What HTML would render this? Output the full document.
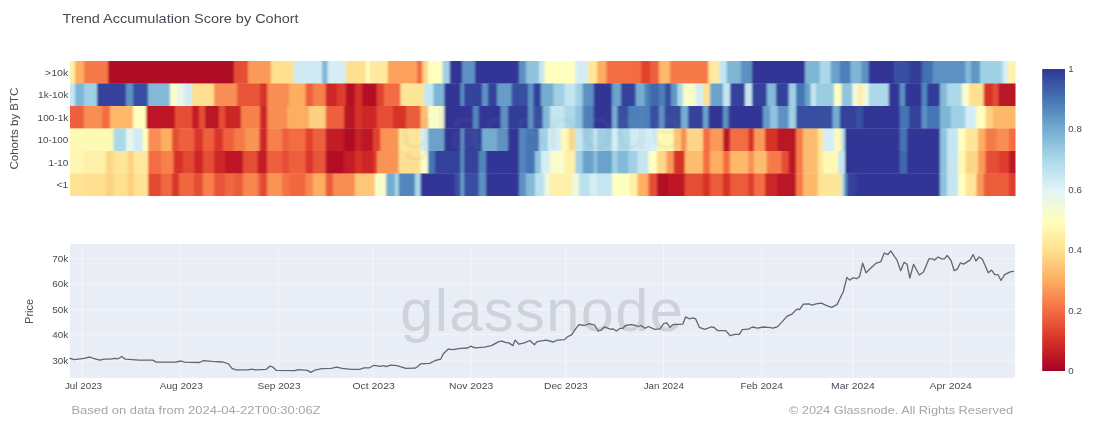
<!DOCTYPE html>
<html><head><meta charset="utf-8"><title>Trend Accumulation Score by Cohort</title>
<style>
html,body{margin:0;padding:0;background:#fff;}
body{width:1096px;height:433px;overflow:hidden;position:relative;font-family:"Liberation Sans",sans-serif;}
svg{position:absolute;left:0;top:0;will-change:transform;}
text{font-family:"Liberation Sans",sans-serif;}
.t{fill:#464a52;}
.g line{stroke:#fff;stroke-width:1;stroke-opacity:0.5;}
</style></head><body>
<svg width="1096" height="433" viewBox="0 0 1096 433">
<defs>
<linearGradient id="cb" x1="0" y1="0" x2="0" y2="1">
<stop offset="0%" stop-color="#313695"/>
<stop offset="10%" stop-color="#4575b4"/>
<stop offset="20%" stop-color="#74add1"/>
<stop offset="30%" stop-color="#abd9e9"/>
<stop offset="40%" stop-color="#e0f3f8"/>
<stop offset="50%" stop-color="#ffffbf"/>
<stop offset="60%" stop-color="#fee090"/>
<stop offset="70%" stop-color="#fdae61"/>
<stop offset="80%" stop-color="#f46d43"/>
<stop offset="90%" stop-color="#d73027"/>
<stop offset="100%" stop-color="#a50026"/>
</linearGradient>
<filter id="hb" x="-2%" y="-2%" width="104%" height="104%"><feGaussianBlur stdDeviation="1.1 0.35"/></filter>
<clipPath id="hc"><rect x="70" y="61" width="945.5" height="135"/></clipPath>
<clipPath id="pc"><rect x="70" y="244" width="945" height="134"/></clipPath>
</defs>
<rect width="1096" height="433" fill="#ffffff"/>
<!-- title -->
<text class="t" x="62.6" y="22.9" font-size="13.3" textLength="236" lengthAdjust="spacingAndGlyphs">Trend Accumulation Score by Cohort</text>
<!-- heatmap -->
<g clip-path="url(#hc)">
<g filter="url(#hb)">
<rect x="60" y="40" width="965" height="22" fill="#ffffbf"/>
<rect x="60" y="195.5" width="965" height="22" fill="#ffffbf"/>
<rect x="64.0" y="61.00" width="11.5" height="22.80" fill="#fef0a8"/>
<rect x="75.0" y="61.00" width="9.5" height="22.80" fill="#fdae61"/>
<rect x="84.0" y="61.00" width="24.5" height="22.80" fill="#f67a49"/>
<rect x="108.0" y="61.00" width="126.5" height="22.80" fill="#af0a26"/>
<rect x="234.0" y="61.00" width="14.5" height="22.80" fill="#e64e35"/>
<rect x="248.0" y="61.00" width="23.5" height="22.80" fill="#fa9a58"/>
<rect x="271.0" y="61.00" width="23.3" height="22.80" fill="#fee090"/>
<rect x="293.8" y="61.00" width="28.7" height="22.80" fill="#d0ebf4"/>
<rect x="322.0" y="61.00" width="6.0" height="22.80" fill="#7fb6d6"/>
<rect x="327.5" y="61.00" width="18.8" height="22.80" fill="#d5eef5"/>
<rect x="345.8" y="61.00" width="20.5" height="22.80" fill="#fee090"/>
<rect x="365.8" y="61.00" width="4.2" height="22.80" fill="#ffffbf"/>
<rect x="369.5" y="61.00" width="18.7" height="22.80" fill="#fee99e"/>
<rect x="387.7" y="61.00" width="29.8" height="22.80" fill="#fba15b"/>
<rect x="417.0" y="61.00" width="5.9" height="22.80" fill="#f46d43"/>
<rect x="422.4" y="61.00" width="6.1" height="22.80" fill="#fed687"/>
<rect x="428.0" y="61.00" width="15.0" height="22.80" fill="#ffffbf"/>
<rect x="442.5" y="61.00" width="7.8" height="22.80" fill="#a0d0e4"/>
<rect x="449.8" y="61.00" width="12.7" height="22.80" fill="#313695"/>
<rect x="462.0" y="61.00" width="13.5" height="22.80" fill="#5d91c3"/>
<rect x="475.0" y="61.00" width="44.5" height="22.80" fill="#313695"/>
<rect x="519.0" y="61.00" width="7.5" height="22.80" fill="#5d91c3"/>
<rect x="526.0" y="61.00" width="13.5" height="22.80" fill="#90c3dd"/>
<rect x="539.0" y="61.00" width="5.9" height="22.80" fill="#c5e6f0"/>
<rect x="544.4" y="61.00" width="31.5" height="22.80" fill="#ffffbf"/>
<rect x="575.4" y="61.00" width="13.1" height="22.80" fill="#d5eef5"/>
<rect x="588.0" y="61.00" width="9.5" height="22.80" fill="#fee699"/>
<rect x="597.0" y="61.00" width="10.0" height="22.80" fill="#fdae61"/>
<rect x="606.5" y="61.00" width="35.0" height="22.80" fill="#f46d43"/>
<rect x="641.0" y="61.00" width="9.5" height="22.80" fill="#e0422f"/>
<rect x="650.0" y="61.00" width="9.5" height="22.80" fill="#ee613d"/>
<rect x="659.0" y="61.00" width="11.5" height="22.80" fill="#fdb86a"/>
<rect x="670.0" y="61.00" width="38.9" height="22.80" fill="#f67a49"/>
<rect x="708.4" y="61.00" width="11.4" height="22.80" fill="#fee99e"/>
<rect x="719.3" y="61.00" width="7.8" height="22.80" fill="#c5e6f0"/>
<rect x="726.6" y="61.00" width="14.9" height="22.80" fill="#7fb6d6"/>
<rect x="741.0" y="61.00" width="11.5" height="22.80" fill="#5d91c3"/>
<rect x="752.0" y="61.00" width="53.5" height="22.80" fill="#313695"/>
<rect x="805.0" y="61.00" width="15.2" height="22.80" fill="#7fb6d6"/>
<rect x="819.7" y="61.00" width="11.5" height="22.80" fill="#abd9e9"/>
<rect x="830.7" y="61.00" width="9.6" height="22.80" fill="#6ba2cb"/>
<rect x="839.8" y="61.00" width="11.2" height="22.80" fill="#4e80ba"/>
<rect x="850.5" y="61.00" width="11.4" height="22.80" fill="#7fb6d6"/>
<rect x="861.4" y="61.00" width="7.8" height="22.80" fill="#5d91c3"/>
<rect x="868.7" y="61.00" width="26.1" height="22.80" fill="#313695"/>
<rect x="894.3" y="61.00" width="15.2" height="22.80" fill="#394fa1"/>
<rect x="909.0" y="61.00" width="13.1" height="22.80" fill="#333c98"/>
<rect x="921.6" y="61.00" width="11.5" height="22.80" fill="#436fb1"/>
<rect x="932.6" y="61.00" width="33.3" height="22.80" fill="#5d91c3"/>
<rect x="965.4" y="61.00" width="6.1" height="22.80" fill="#84bad8"/>
<rect x="971.0" y="61.00" width="9.5" height="22.80" fill="#6197c5"/>
<rect x="980.0" y="61.00" width="23.0" height="22.80" fill="#a0d0e4"/>
<rect x="1002.5" y="61.00" width="5.5" height="22.80" fill="#d5eef5"/>
<rect x="1007.5" y="61.00" width="14.0" height="22.80" fill="#fff3ac"/>
<rect x="64.0" y="83.50" width="11.5" height="22.80" fill="#c5e6f0"/>
<rect x="75.0" y="83.50" width="9.5" height="22.80" fill="#7fb6d6"/>
<rect x="84.0" y="83.50" width="13.5" height="22.80" fill="#a0d0e4"/>
<rect x="97.0" y="83.50" width="29.5" height="22.80" fill="#35439b"/>
<rect x="126.0" y="83.50" width="7.5" height="22.80" fill="#5d91c3"/>
<rect x="133.0" y="83.50" width="15.5" height="22.80" fill="#394fa1"/>
<rect x="148.0" y="83.50" width="22.5" height="22.80" fill="#84bad8"/>
<rect x="170.0" y="83.50" width="7.5" height="22.80" fill="#f9fdca"/>
<rect x="177.0" y="83.50" width="7.5" height="22.80" fill="#e9f7e7"/>
<rect x="184.0" y="83.50" width="8.5" height="22.80" fill="#d0ebf4"/>
<rect x="192.0" y="83.50" width="22.5" height="22.80" fill="#fee090"/>
<rect x="214.0" y="83.50" width="23.5" height="22.80" fill="#f88e52"/>
<rect x="237.0" y="83.50" width="23.5" height="22.80" fill="#e85538"/>
<rect x="260.0" y="83.50" width="7.8" height="22.80" fill="#d73027"/>
<rect x="267.3" y="83.50" width="22.4" height="22.80" fill="#f88e52"/>
<rect x="289.2" y="83.50" width="16.9" height="22.80" fill="#fdae61"/>
<rect x="305.6" y="83.50" width="7.9" height="22.80" fill="#ee613d"/>
<rect x="313.0" y="83.50" width="13.2" height="22.80" fill="#f7804c"/>
<rect x="325.7" y="83.50" width="11.4" height="22.80" fill="#cd2627"/>
<rect x="336.6" y="83.50" width="9.7" height="22.80" fill="#dd3c2d"/>
<rect x="345.8" y="83.50" width="9.7" height="22.80" fill="#b40e26"/>
<rect x="355.0" y="83.50" width="7.5" height="22.80" fill="#d73027"/>
<rect x="362.0" y="83.50" width="15.3" height="22.80" fill="#b40e26"/>
<rect x="376.8" y="83.50" width="7.7" height="22.80" fill="#e0422f"/>
<rect x="384.0" y="83.50" width="17.0" height="22.80" fill="#f46d43"/>
<rect x="400.5" y="83.50" width="24.0" height="22.80" fill="#fee699"/>
<rect x="424.0" y="83.50" width="9.9" height="22.80" fill="#c5e6f0"/>
<rect x="433.4" y="83.50" width="11.4" height="22.80" fill="#7fb6d6"/>
<rect x="444.3" y="83.50" width="16.7" height="22.80" fill="#313695"/>
<rect x="460.5" y="83.50" width="4.0" height="22.80" fill="#5d91c3"/>
<rect x="464.0" y="83.50" width="18.5" height="22.80" fill="#35439b"/>
<rect x="482.0" y="83.50" width="6.5" height="22.80" fill="#5d91c3"/>
<rect x="488.0" y="83.50" width="9.5" height="22.80" fill="#35439b"/>
<rect x="497.0" y="83.50" width="15.1" height="22.80" fill="#669cc8"/>
<rect x="511.6" y="83.50" width="16.9" height="22.80" fill="#394fa1"/>
<rect x="528.0" y="83.50" width="6.0" height="22.80" fill="#5d91c3"/>
<rect x="533.5" y="83.50" width="7.8" height="22.80" fill="#35439b"/>
<rect x="540.8" y="83.50" width="13.2" height="22.80" fill="#74add1"/>
<rect x="553.5" y="83.50" width="11.5" height="22.80" fill="#a0d0e4"/>
<rect x="564.5" y="83.50" width="11.4" height="22.80" fill="#c5e6f0"/>
<rect x="575.4" y="83.50" width="7.8" height="22.80" fill="#a0d0e4"/>
<rect x="582.7" y="83.50" width="11.5" height="22.80" fill="#5d91c3"/>
<rect x="593.7" y="83.50" width="18.8" height="22.80" fill="#313695"/>
<rect x="612.0" y="83.50" width="9.5" height="22.80" fill="#6ba2cb"/>
<rect x="621.0" y="83.50" width="15.2" height="22.80" fill="#35439b"/>
<rect x="635.7" y="83.50" width="9.6" height="22.80" fill="#74add1"/>
<rect x="644.8" y="83.50" width="5.7" height="22.80" fill="#4e80ba"/>
<rect x="650.0" y="83.50" width="9.5" height="22.80" fill="#4168ae"/>
<rect x="659.0" y="83.50" width="6.5" height="22.80" fill="#4e80ba"/>
<rect x="665.0" y="83.50" width="6.5" height="22.80" fill="#394fa1"/>
<rect x="671.0" y="83.50" width="6.9" height="22.80" fill="#6197c5"/>
<rect x="677.4" y="83.50" width="6.1" height="22.80" fill="#abd9e9"/>
<rect x="683.0" y="83.50" width="13.1" height="22.80" fill="#f9fdca"/>
<rect x="695.6" y="83.50" width="7.9" height="22.80" fill="#d5eef5"/>
<rect x="703.0" y="83.50" width="7.5" height="22.80" fill="#fee090"/>
<rect x="710.0" y="83.50" width="13.5" height="22.80" fill="#6ba2cb"/>
<rect x="723.0" y="83.50" width="7.5" height="22.80" fill="#c5e6f0"/>
<rect x="730.0" y="83.50" width="15.5" height="22.80" fill="#35439b"/>
<rect x="745.0" y="83.50" width="7.5" height="22.80" fill="#c5e6f0"/>
<rect x="752.0" y="83.50" width="15.3" height="22.80" fill="#35439b"/>
<rect x="766.8" y="83.50" width="9.7" height="22.80" fill="#84bad8"/>
<rect x="776.0" y="83.50" width="13.2" height="22.80" fill="#35439b"/>
<rect x="788.7" y="83.50" width="7.8" height="22.80" fill="#a0d0e4"/>
<rect x="796.0" y="83.50" width="9.5" height="22.80" fill="#4575b4"/>
<rect x="805.0" y="83.50" width="6.1" height="22.80" fill="#6ba2cb"/>
<rect x="810.6" y="83.50" width="5.9" height="22.80" fill="#c5e6f0"/>
<rect x="816.0" y="83.50" width="18.5" height="22.80" fill="#9acce2"/>
<rect x="834.0" y="83.50" width="8.1" height="22.80" fill="#ffffbf"/>
<rect x="841.6" y="83.50" width="11.2" height="22.80" fill="#90c3dd"/>
<rect x="852.3" y="83.50" width="6.0" height="22.80" fill="#eff9dc"/>
<rect x="857.8" y="83.50" width="5.9" height="22.80" fill="#fef0a8"/>
<rect x="863.2" y="83.50" width="6.0" height="22.80" fill="#eff9dc"/>
<rect x="868.7" y="83.50" width="20.6" height="22.80" fill="#abd9e9"/>
<rect x="888.8" y="83.50" width="11.4" height="22.80" fill="#313695"/>
<rect x="899.7" y="83.50" width="5.8" height="22.80" fill="#5d91c3"/>
<rect x="905.0" y="83.50" width="17.1" height="22.80" fill="#313695"/>
<rect x="921.6" y="83.50" width="5.9" height="22.80" fill="#5386bd"/>
<rect x="927.0" y="83.50" width="13.5" height="22.80" fill="#333c98"/>
<rect x="940.0" y="83.50" width="7.5" height="22.80" fill="#84bad8"/>
<rect x="947.0" y="83.50" width="15.3" height="22.80" fill="#abd9e9"/>
<rect x="961.8" y="83.50" width="7.7" height="22.80" fill="#f9fdca"/>
<rect x="969.0" y="83.50" width="15.2" height="22.80" fill="#fee090"/>
<rect x="983.7" y="83.50" width="9.6" height="22.80" fill="#d73027"/>
<rect x="992.8" y="83.50" width="6.0" height="22.80" fill="#e64e35"/>
<rect x="998.3" y="83.50" width="23.2" height="22.80" fill="#b91326"/>
<rect x="64.0" y="106.00" width="20.5" height="22.80" fill="#ee613d"/>
<rect x="84.0" y="106.00" width="18.5" height="22.80" fill="#f88e52"/>
<rect x="102.0" y="106.00" width="8.5" height="22.80" fill="#f46d43"/>
<rect x="110.0" y="106.00" width="23.5" height="22.80" fill="#fdb86a"/>
<rect x="133.0" y="106.00" width="13.5" height="22.80" fill="#ffffbf"/>
<rect x="146.0" y="106.00" width="29.5" height="22.80" fill="#be1826"/>
<rect x="175.0" y="106.00" width="17.5" height="22.80" fill="#e64e35"/>
<rect x="192.0" y="106.00" width="7.5" height="22.80" fill="#c31d27"/>
<rect x="199.0" y="106.00" width="6.5" height="22.80" fill="#e64e35"/>
<rect x="205.0" y="106.00" width="14.5" height="22.80" fill="#b91326"/>
<rect x="219.0" y="106.00" width="6.5" height="22.80" fill="#e64e35"/>
<rect x="225.0" y="106.00" width="16.5" height="22.80" fill="#cd2627"/>
<rect x="241.0" y="106.00" width="19.5" height="22.80" fill="#f7804c"/>
<rect x="260.0" y="106.00" width="7.8" height="22.80" fill="#cd2627"/>
<rect x="267.3" y="106.00" width="20.6" height="22.80" fill="#f88e52"/>
<rect x="287.4" y="106.00" width="22.4" height="22.80" fill="#fdae61"/>
<rect x="309.3" y="106.00" width="16.9" height="22.80" fill="#fed182"/>
<rect x="325.7" y="106.00" width="18.8" height="22.80" fill="#ee613d"/>
<rect x="344.0" y="106.00" width="11.5" height="22.80" fill="#b91326"/>
<rect x="355.0" y="106.00" width="7.5" height="22.80" fill="#d73027"/>
<rect x="362.0" y="106.00" width="15.3" height="22.80" fill="#cd2627"/>
<rect x="376.8" y="106.00" width="16.7" height="22.80" fill="#e64e35"/>
<rect x="393.0" y="106.00" width="13.5" height="22.80" fill="#d73027"/>
<rect x="406.0" y="106.00" width="15.1" height="22.80" fill="#eb5b3b"/>
<rect x="420.6" y="106.00" width="7.9" height="22.80" fill="#fdbd6f"/>
<rect x="428.0" y="106.00" width="16.8" height="22.80" fill="#f9fdca"/>
<rect x="444.3" y="106.00" width="29.2" height="22.80" fill="#313695"/>
<rect x="473.0" y="106.00" width="6.2" height="22.80" fill="#5386bd"/>
<rect x="478.7" y="106.00" width="22.4" height="22.80" fill="#313695"/>
<rect x="500.6" y="106.00" width="7.9" height="22.80" fill="#5d91c3"/>
<rect x="508.0" y="106.00" width="20.5" height="22.80" fill="#333c98"/>
<rect x="528.0" y="106.00" width="6.0" height="22.80" fill="#5d91c3"/>
<rect x="533.5" y="106.00" width="9.6" height="22.80" fill="#394fa1"/>
<rect x="542.6" y="106.00" width="7.9" height="22.80" fill="#84bad8"/>
<rect x="550.0" y="106.00" width="15.0" height="22.80" fill="#c5e6f0"/>
<rect x="564.5" y="106.00" width="11.4" height="22.80" fill="#abd9e9"/>
<rect x="575.4" y="106.00" width="7.8" height="22.80" fill="#90c3dd"/>
<rect x="582.7" y="106.00" width="11.5" height="22.80" fill="#4e80ba"/>
<rect x="593.7" y="106.00" width="18.8" height="22.80" fill="#313695"/>
<rect x="612.0" y="106.00" width="5.9" height="22.80" fill="#74add1"/>
<rect x="617.4" y="106.00" width="11.5" height="22.80" fill="#394fa1"/>
<rect x="628.4" y="106.00" width="22.1" height="22.80" fill="#4e80ba"/>
<rect x="650.0" y="106.00" width="9.5" height="22.80" fill="#394fa1"/>
<rect x="659.0" y="106.00" width="6.1" height="22.80" fill="#5d91c3"/>
<rect x="664.6" y="106.00" width="16.9" height="22.80" fill="#37499e"/>
<rect x="681.0" y="106.00" width="7.5" height="22.80" fill="#74add1"/>
<rect x="688.0" y="106.00" width="15.5" height="22.80" fill="#35439b"/>
<rect x="703.0" y="106.00" width="5.9" height="22.80" fill="#6ba2cb"/>
<rect x="708.4" y="106.00" width="15.1" height="22.80" fill="#313695"/>
<rect x="723.0" y="106.00" width="6.0" height="22.80" fill="#5d91c3"/>
<rect x="728.5" y="106.00" width="35.0" height="22.80" fill="#313695"/>
<rect x="763.0" y="106.00" width="7.5" height="22.80" fill="#669cc8"/>
<rect x="770.0" y="106.00" width="8.2" height="22.80" fill="#90c3dd"/>
<rect x="777.7" y="106.00" width="11.5" height="22.80" fill="#5d91c3"/>
<rect x="788.7" y="106.00" width="7.8" height="22.80" fill="#a0d0e4"/>
<rect x="796.0" y="106.00" width="37.0" height="22.80" fill="#394fa1"/>
<rect x="832.5" y="106.00" width="7.8" height="22.80" fill="#74add1"/>
<rect x="839.8" y="106.00" width="16.7" height="22.80" fill="#35439b"/>
<rect x="856.0" y="106.00" width="7.5" height="22.80" fill="#394fa1"/>
<rect x="863.0" y="106.00" width="37.2" height="22.80" fill="#313695"/>
<rect x="899.7" y="106.00" width="9.8" height="22.80" fill="#4575b4"/>
<rect x="909.0" y="106.00" width="13.1" height="22.80" fill="#35439b"/>
<rect x="921.6" y="106.00" width="5.9" height="22.80" fill="#5d91c3"/>
<rect x="927.0" y="106.00" width="13.5" height="22.80" fill="#4575b4"/>
<rect x="940.0" y="106.00" width="11.3" height="22.80" fill="#7fb6d6"/>
<rect x="950.8" y="106.00" width="15.1" height="22.80" fill="#a0d0e4"/>
<rect x="965.4" y="106.00" width="11.5" height="22.80" fill="#d5eef5"/>
<rect x="976.4" y="106.00" width="9.6" height="22.80" fill="#ffffbf"/>
<rect x="985.5" y="106.00" width="7.8" height="22.80" fill="#fed182"/>
<rect x="992.8" y="106.00" width="28.7" height="22.80" fill="#fdb86a"/>
<rect x="64.0" y="128.50" width="50.0" height="22.80" fill="#fff9b6"/>
<rect x="113.5" y="128.50" width="13.0" height="22.80" fill="#abd9e9"/>
<rect x="126.0" y="128.50" width="8.0" height="22.80" fill="#e6f5ed"/>
<rect x="133.5" y="128.50" width="9.6" height="22.80" fill="#d0ebf4"/>
<rect x="142.6" y="128.50" width="5.9" height="22.80" fill="#ffffbf"/>
<rect x="148.0" y="128.50" width="13.5" height="22.80" fill="#f88e52"/>
<rect x="161.0" y="128.50" width="11.5" height="22.80" fill="#fdae61"/>
<rect x="172.0" y="128.50" width="7.5" height="22.80" fill="#e64e35"/>
<rect x="179.0" y="128.50" width="15.5" height="22.80" fill="#ee613d"/>
<rect x="194.0" y="128.50" width="9.5" height="22.80" fill="#da362a"/>
<rect x="203.0" y="128.50" width="11.5" height="22.80" fill="#ee613d"/>
<rect x="214.0" y="128.50" width="9.5" height="22.80" fill="#da362a"/>
<rect x="223.0" y="128.50" width="11.5" height="22.80" fill="#ee613d"/>
<rect x="234.0" y="128.50" width="11.5" height="22.80" fill="#f67a49"/>
<rect x="245.0" y="128.50" width="14.5" height="22.80" fill="#f99455"/>
<rect x="259.0" y="128.50" width="1.5" height="22.80" fill="#ee613d"/>
<rect x="260.0" y="128.50" width="7.8" height="22.80" fill="#cd2627"/>
<rect x="267.3" y="128.50" width="15.2" height="22.80" fill="#f7804c"/>
<rect x="282.0" y="128.50" width="7.5" height="22.80" fill="#ee613d"/>
<rect x="289.0" y="128.50" width="17.1" height="22.80" fill="#f46d43"/>
<rect x="305.6" y="128.50" width="7.9" height="22.80" fill="#e0422f"/>
<rect x="313.0" y="128.50" width="13.2" height="22.80" fill="#ee613d"/>
<rect x="325.7" y="128.50" width="18.8" height="22.80" fill="#c31d27"/>
<rect x="344.0" y="128.50" width="11.5" height="22.80" fill="#af0a26"/>
<rect x="355.0" y="128.50" width="7.5" height="22.80" fill="#c82227"/>
<rect x="362.0" y="128.50" width="11.5" height="22.80" fill="#be1826"/>
<rect x="373.0" y="128.50" width="7.9" height="22.80" fill="#e0422f"/>
<rect x="380.4" y="128.50" width="18.8" height="22.80" fill="#f99455"/>
<rect x="398.7" y="128.50" width="22.4" height="22.80" fill="#fee699"/>
<rect x="420.6" y="128.50" width="7.9" height="22.80" fill="#d5eef5"/>
<rect x="428.0" y="128.50" width="16.8" height="22.80" fill="#6ba2cb"/>
<rect x="444.3" y="128.50" width="16.7" height="22.80" fill="#313695"/>
<rect x="460.5" y="128.50" width="4.0" height="22.80" fill="#5d91c3"/>
<rect x="464.0" y="128.50" width="18.5" height="22.80" fill="#35439b"/>
<rect x="482.0" y="128.50" width="15.5" height="22.80" fill="#74add1"/>
<rect x="497.0" y="128.50" width="11.5" height="22.80" fill="#5d91c3"/>
<rect x="508.0" y="128.50" width="11.5" height="22.80" fill="#313695"/>
<rect x="519.0" y="128.50" width="7.5" height="22.80" fill="#5386bd"/>
<rect x="526.0" y="128.50" width="13.5" height="22.80" fill="#4575b4"/>
<rect x="539.0" y="128.50" width="9.5" height="22.80" fill="#a0d0e4"/>
<rect x="548.0" y="128.50" width="13.5" height="22.80" fill="#d5eef5"/>
<rect x="561.0" y="128.50" width="7.5" height="22.80" fill="#fff9b6"/>
<rect x="568.0" y="128.50" width="7.9" height="22.80" fill="#fee090"/>
<rect x="575.4" y="128.50" width="7.8" height="22.80" fill="#c5e6f0"/>
<rect x="582.7" y="128.50" width="11.5" height="22.80" fill="#a0d0e4"/>
<rect x="593.7" y="128.50" width="3.8" height="22.80" fill="#c5e6f0"/>
<rect x="597.0" y="128.50" width="15.5" height="22.80" fill="#a0d0e4"/>
<rect x="612.0" y="128.50" width="5.9" height="22.80" fill="#d5eef5"/>
<rect x="617.4" y="128.50" width="13.1" height="22.80" fill="#abd9e9"/>
<rect x="630.0" y="128.50" width="20.5" height="22.80" fill="#d0ebf4"/>
<rect x="650.0" y="128.50" width="7.5" height="22.80" fill="#d5eef5"/>
<rect x="657.0" y="128.50" width="17.2" height="22.80" fill="#fff9b6"/>
<rect x="673.7" y="128.50" width="7.8" height="22.80" fill="#fec778"/>
<rect x="681.0" y="128.50" width="6.0" height="22.80" fill="#f88e52"/>
<rect x="686.5" y="128.50" width="17.0" height="22.80" fill="#fed687"/>
<rect x="703.0" y="128.50" width="7.5" height="22.80" fill="#f46d43"/>
<rect x="710.0" y="128.50" width="13.5" height="22.80" fill="#fa9a58"/>
<rect x="723.0" y="128.50" width="7.5" height="22.80" fill="#be1826"/>
<rect x="730.0" y="128.50" width="19.0" height="22.80" fill="#f46d43"/>
<rect x="748.5" y="128.50" width="6.0" height="22.80" fill="#d73027"/>
<rect x="754.0" y="128.50" width="11.5" height="22.80" fill="#fa9a58"/>
<rect x="765.0" y="128.50" width="13.2" height="22.80" fill="#d73027"/>
<rect x="777.7" y="128.50" width="18.8" height="22.80" fill="#b91326"/>
<rect x="796.0" y="128.50" width="7.5" height="22.80" fill="#f67a49"/>
<rect x="803.0" y="128.50" width="15.5" height="22.80" fill="#fdbd6f"/>
<rect x="818.0" y="128.50" width="5.9" height="22.80" fill="#fee699"/>
<rect x="823.4" y="128.50" width="11.4" height="22.80" fill="#d5eef5"/>
<rect x="834.3" y="128.50" width="7.8" height="22.80" fill="#fff9b6"/>
<rect x="841.6" y="128.50" width="3.9" height="22.80" fill="#abd9e9"/>
<rect x="845.0" y="128.50" width="55.2" height="22.80" fill="#313695"/>
<rect x="899.7" y="128.50" width="7.8" height="22.80" fill="#4575b4"/>
<rect x="907.0" y="128.50" width="33.5" height="22.80" fill="#313695"/>
<rect x="940.0" y="128.50" width="7.5" height="22.80" fill="#90c3dd"/>
<rect x="947.0" y="128.50" width="11.5" height="22.80" fill="#c5e6f0"/>
<rect x="958.0" y="128.50" width="7.9" height="22.80" fill="#ffffbf"/>
<rect x="965.4" y="128.50" width="13.1" height="22.80" fill="#fee699"/>
<rect x="978.0" y="128.50" width="8.0" height="22.80" fill="#fdae61"/>
<rect x="985.5" y="128.50" width="11.5" height="22.80" fill="#f67a49"/>
<rect x="996.5" y="128.50" width="13.0" height="22.80" fill="#f88e52"/>
<rect x="1009.0" y="128.50" width="12.5" height="22.80" fill="#f46d43"/>
<rect x="64.0" y="151.00" width="20.5" height="22.80" fill="#fff6b1"/>
<rect x="84.0" y="151.00" width="22.5" height="22.80" fill="#fef0a8"/>
<rect x="106.0" y="151.00" width="8.0" height="22.80" fill="#fed687"/>
<rect x="113.5" y="151.00" width="15.0" height="22.80" fill="#fee699"/>
<rect x="128.0" y="151.00" width="6.0" height="22.80" fill="#fed182"/>
<rect x="133.5" y="151.00" width="15.0" height="22.80" fill="#fee99e"/>
<rect x="148.0" y="151.00" width="13.5" height="22.80" fill="#f46d43"/>
<rect x="161.0" y="151.00" width="13.1" height="22.80" fill="#f7804c"/>
<rect x="173.6" y="151.00" width="9.9" height="22.80" fill="#d73027"/>
<rect x="183.0" y="151.00" width="11.5" height="22.80" fill="#e34832"/>
<rect x="194.0" y="151.00" width="9.5" height="22.80" fill="#cd2627"/>
<rect x="203.0" y="151.00" width="11.5" height="22.80" fill="#e64e35"/>
<rect x="214.0" y="151.00" width="11.5" height="22.80" fill="#cd2627"/>
<rect x="225.0" y="151.00" width="18.5" height="22.80" fill="#be1826"/>
<rect x="243.0" y="151.00" width="15.1" height="22.80" fill="#e64e35"/>
<rect x="257.6" y="151.00" width="10.2" height="22.80" fill="#c31d27"/>
<rect x="267.3" y="151.00" width="15.2" height="22.80" fill="#ee613d"/>
<rect x="282.0" y="151.00" width="7.5" height="22.80" fill="#e64e35"/>
<rect x="289.0" y="151.00" width="17.1" height="22.80" fill="#ee613d"/>
<rect x="305.6" y="151.00" width="7.9" height="22.80" fill="#da362a"/>
<rect x="313.0" y="151.00" width="13.2" height="22.80" fill="#e85538"/>
<rect x="325.7" y="151.00" width="18.8" height="22.80" fill="#b40e26"/>
<rect x="344.0" y="151.00" width="11.5" height="22.80" fill="#c31d27"/>
<rect x="355.0" y="151.00" width="7.5" height="22.80" fill="#d73027"/>
<rect x="362.0" y="151.00" width="11.5" height="22.80" fill="#cd2627"/>
<rect x="373.0" y="151.00" width="4.3" height="22.80" fill="#da362a"/>
<rect x="376.8" y="151.00" width="22.4" height="22.80" fill="#f99455"/>
<rect x="398.7" y="151.00" width="22.4" height="22.80" fill="#fee090"/>
<rect x="420.6" y="151.00" width="7.9" height="22.80" fill="#f9fdca"/>
<rect x="428.0" y="151.00" width="7.5" height="22.80" fill="#4575b4"/>
<rect x="435.0" y="151.00" width="26.0" height="22.80" fill="#35439b"/>
<rect x="460.5" y="151.00" width="4.0" height="22.80" fill="#5d91c3"/>
<rect x="464.0" y="151.00" width="15.2" height="22.80" fill="#35439b"/>
<rect x="478.7" y="151.00" width="7.8" height="22.80" fill="#5386bd"/>
<rect x="486.0" y="151.00" width="33.5" height="22.80" fill="#313695"/>
<rect x="519.0" y="151.00" width="7.5" height="22.80" fill="#5386bd"/>
<rect x="526.0" y="151.00" width="9.5" height="22.80" fill="#4575b4"/>
<rect x="535.0" y="151.00" width="6.5" height="22.80" fill="#90c3dd"/>
<rect x="541.0" y="151.00" width="9.5" height="22.80" fill="#d5eef5"/>
<rect x="550.0" y="151.00" width="15.0" height="22.80" fill="#f9fdca"/>
<rect x="564.5" y="151.00" width="11.4" height="22.80" fill="#fef0a8"/>
<rect x="575.4" y="151.00" width="7.8" height="22.80" fill="#a0d0e4"/>
<rect x="582.7" y="151.00" width="11.5" height="22.80" fill="#6ba2cb"/>
<rect x="593.7" y="151.00" width="3.8" height="22.80" fill="#90c3dd"/>
<rect x="597.0" y="151.00" width="15.5" height="22.80" fill="#6ba2cb"/>
<rect x="612.0" y="151.00" width="5.9" height="22.80" fill="#a0d0e4"/>
<rect x="617.4" y="151.00" width="11.5" height="22.80" fill="#84bad8"/>
<rect x="628.4" y="151.00" width="9.6" height="22.80" fill="#a0d0e4"/>
<rect x="637.5" y="151.00" width="11.4" height="22.80" fill="#c5e6f0"/>
<rect x="648.4" y="151.00" width="9.1" height="22.80" fill="#ffffbf"/>
<rect x="657.0" y="151.00" width="9.9" height="22.80" fill="#fed687"/>
<rect x="666.4" y="151.00" width="7.8" height="22.80" fill="#fa9a58"/>
<rect x="673.7" y="151.00" width="11.5" height="22.80" fill="#d73027"/>
<rect x="684.7" y="151.00" width="18.8" height="22.80" fill="#fdbd6f"/>
<rect x="703.0" y="151.00" width="7.5" height="22.80" fill="#f46d43"/>
<rect x="710.0" y="151.00" width="13.5" height="22.80" fill="#fdae61"/>
<rect x="723.0" y="151.00" width="7.5" height="22.80" fill="#f46d43"/>
<rect x="730.0" y="151.00" width="19.0" height="22.80" fill="#fdb86a"/>
<rect x="748.5" y="151.00" width="6.0" height="22.80" fill="#f88e52"/>
<rect x="754.0" y="151.00" width="13.3" height="22.80" fill="#fdbd6f"/>
<rect x="766.8" y="151.00" width="15.1" height="22.80" fill="#f67a49"/>
<rect x="781.4" y="151.00" width="7.8" height="22.80" fill="#e64e35"/>
<rect x="788.7" y="151.00" width="7.8" height="22.80" fill="#b91326"/>
<rect x="796.0" y="151.00" width="7.5" height="22.80" fill="#f67a49"/>
<rect x="803.0" y="151.00" width="15.5" height="22.80" fill="#fdbd6f"/>
<rect x="818.0" y="151.00" width="5.9" height="22.80" fill="#fee699"/>
<rect x="823.4" y="151.00" width="15.1" height="22.80" fill="#fff9b6"/>
<rect x="838.0" y="151.00" width="7.5" height="22.80" fill="#c5e6f0"/>
<rect x="845.0" y="151.00" width="55.2" height="22.80" fill="#313695"/>
<rect x="899.7" y="151.00" width="7.8" height="22.80" fill="#4168ae"/>
<rect x="907.0" y="151.00" width="33.5" height="22.80" fill="#313695"/>
<rect x="940.0" y="151.00" width="7.5" height="22.80" fill="#90c3dd"/>
<rect x="947.0" y="151.00" width="11.5" height="22.80" fill="#c5e6f0"/>
<rect x="958.0" y="151.00" width="7.9" height="22.80" fill="#fff9b6"/>
<rect x="965.4" y="151.00" width="13.1" height="22.80" fill="#fed687"/>
<rect x="978.0" y="151.00" width="8.0" height="22.80" fill="#fa9a58"/>
<rect x="985.5" y="151.00" width="13.3" height="22.80" fill="#e64e35"/>
<rect x="998.3" y="151.00" width="11.2" height="22.80" fill="#dd3c2d"/>
<rect x="1009.0" y="151.00" width="12.5" height="22.80" fill="#be1826"/>
<rect x="64.0" y="173.50" width="20.5" height="22.50" fill="#fee395"/>
<rect x="84.0" y="173.50" width="22.5" height="22.50" fill="#fee090"/>
<rect x="106.0" y="173.50" width="8.0" height="22.50" fill="#fed182"/>
<rect x="113.5" y="173.50" width="15.0" height="22.50" fill="#fee090"/>
<rect x="128.0" y="173.50" width="6.0" height="22.50" fill="#fecc7d"/>
<rect x="133.5" y="173.50" width="15.0" height="22.50" fill="#fee395"/>
<rect x="148.0" y="173.50" width="13.5" height="22.50" fill="#e34832"/>
<rect x="161.0" y="173.50" width="11.5" height="22.50" fill="#f16740"/>
<rect x="172.0" y="173.50" width="7.5" height="22.50" fill="#da362a"/>
<rect x="179.0" y="173.50" width="15.5" height="22.50" fill="#f16740"/>
<rect x="194.0" y="173.50" width="9.5" height="22.50" fill="#e64e35"/>
<rect x="203.0" y="173.50" width="11.5" height="22.50" fill="#f7804c"/>
<rect x="214.0" y="173.50" width="11.5" height="22.50" fill="#e85538"/>
<rect x="225.0" y="173.50" width="9.5" height="22.50" fill="#f16740"/>
<rect x="234.0" y="173.50" width="9.5" height="22.50" fill="#eb5b3b"/>
<rect x="243.0" y="173.50" width="15.1" height="22.50" fill="#f8874f"/>
<rect x="257.6" y="173.50" width="2.9" height="22.50" fill="#f16740"/>
<rect x="260.0" y="173.50" width="7.8" height="22.50" fill="#e34832"/>
<rect x="267.3" y="173.50" width="15.2" height="22.50" fill="#f99455"/>
<rect x="282.0" y="173.50" width="7.5" height="22.50" fill="#f57346"/>
<rect x="289.0" y="173.50" width="17.1" height="22.50" fill="#f16740"/>
<rect x="305.6" y="173.50" width="7.9" height="22.50" fill="#f8874f"/>
<rect x="313.0" y="173.50" width="13.2" height="22.50" fill="#fdae61"/>
<rect x="325.7" y="173.50" width="7.8" height="22.50" fill="#eb5b3b"/>
<rect x="333.0" y="173.50" width="22.5" height="22.50" fill="#f88e52"/>
<rect x="355.0" y="173.50" width="20.5" height="22.50" fill="#fec778"/>
<rect x="375.0" y="173.50" width="11.5" height="22.50" fill="#f9fdca"/>
<rect x="386.0" y="173.50" width="9.5" height="22.50" fill="#74add1"/>
<rect x="395.0" y="173.50" width="4.2" height="22.50" fill="#abd9e9"/>
<rect x="398.7" y="173.50" width="16.8" height="22.50" fill="#5386bd"/>
<rect x="415.0" y="173.50" width="6.1" height="22.50" fill="#abd9e9"/>
<rect x="420.6" y="173.50" width="34.9" height="22.50" fill="#313695"/>
<rect x="455.0" y="173.50" width="6.0" height="22.50" fill="#394fa1"/>
<rect x="460.5" y="173.50" width="4.0" height="22.50" fill="#6ba2cb"/>
<rect x="464.0" y="173.50" width="15.2" height="22.50" fill="#394fa1"/>
<rect x="478.7" y="173.50" width="7.8" height="22.50" fill="#5d91c3"/>
<rect x="486.0" y="173.50" width="33.5" height="22.50" fill="#313695"/>
<rect x="519.0" y="173.50" width="7.5" height="22.50" fill="#5d91c3"/>
<rect x="526.0" y="173.50" width="9.5" height="22.50" fill="#84bad8"/>
<rect x="535.0" y="173.50" width="9.9" height="22.50" fill="#bbe1ee"/>
<rect x="544.4" y="173.50" width="6.1" height="22.50" fill="#eff9dc"/>
<rect x="550.0" y="173.50" width="22.5" height="22.50" fill="#fef0a8"/>
<rect x="572.0" y="173.50" width="7.5" height="22.50" fill="#eff9dc"/>
<rect x="579.0" y="173.50" width="11.5" height="22.50" fill="#bbe1ee"/>
<rect x="590.0" y="173.50" width="7.5" height="22.50" fill="#d5eef5"/>
<rect x="597.0" y="173.50" width="15.5" height="22.50" fill="#c5e6f0"/>
<rect x="612.0" y="173.50" width="18.5" height="22.50" fill="#ffffbf"/>
<rect x="630.0" y="173.50" width="8.0" height="22.50" fill="#fef0a8"/>
<rect x="637.5" y="173.50" width="11.4" height="22.50" fill="#fdae61"/>
<rect x="648.4" y="173.50" width="2.1" height="22.50" fill="#eb5b3b"/>
<rect x="650.0" y="173.50" width="7.5" height="22.50" fill="#e64e35"/>
<rect x="657.0" y="173.50" width="11.5" height="22.50" fill="#b40e26"/>
<rect x="668.0" y="173.50" width="17.2" height="22.50" fill="#be1826"/>
<rect x="684.7" y="173.50" width="18.8" height="22.50" fill="#e64e35"/>
<rect x="703.0" y="173.50" width="7.5" height="22.50" fill="#d73027"/>
<rect x="710.0" y="173.50" width="13.5" height="22.50" fill="#eb5b3b"/>
<rect x="723.0" y="173.50" width="7.5" height="22.50" fill="#d73027"/>
<rect x="730.0" y="173.50" width="19.0" height="22.50" fill="#eb5b3b"/>
<rect x="748.5" y="173.50" width="6.0" height="22.50" fill="#dd3c2d"/>
<rect x="754.0" y="173.50" width="11.5" height="22.50" fill="#f46d43"/>
<rect x="765.0" y="173.50" width="13.2" height="22.50" fill="#cd2627"/>
<rect x="777.7" y="173.50" width="18.8" height="22.50" fill="#b91326"/>
<rect x="796.0" y="173.50" width="7.5" height="22.50" fill="#f67a49"/>
<rect x="803.0" y="173.50" width="15.5" height="22.50" fill="#fdb86a"/>
<rect x="818.0" y="173.50" width="24.1" height="22.50" fill="#fee699"/>
<rect x="841.6" y="173.50" width="2.9" height="22.50" fill="#b6deec"/>
<rect x="844.0" y="173.50" width="3.5" height="22.50" fill="#5d91c3"/>
<rect x="847.0" y="173.50" width="9.5" height="22.50" fill="#35439b"/>
<rect x="856.0" y="173.50" width="84.5" height="22.50" fill="#313695"/>
<rect x="940.0" y="173.50" width="7.5" height="22.50" fill="#90c3dd"/>
<rect x="947.0" y="173.50" width="11.5" height="22.50" fill="#c5e6f0"/>
<rect x="958.0" y="173.50" width="7.9" height="22.50" fill="#ffffbf"/>
<rect x="965.4" y="173.50" width="11.5" height="22.50" fill="#fee699"/>
<rect x="976.4" y="173.50" width="7.8" height="22.50" fill="#fa9a58"/>
<rect x="983.7" y="173.50" width="25.8" height="22.50" fill="#eb5b3b"/>
<rect x="1009.0" y="173.50" width="12.5" height="22.50" fill="#dd3c2d"/>
</g>
<text x="400.2" y="148.7" font-size="59.5" fill="#8e8e96" fill-opacity="0.08" textLength="282.6" lengthAdjust="spacing">glassnode</text>
</g>
<!-- heatmap y labels -->
<g class="t" font-size="9.7" text-anchor="end">
<text x="68.3" y="75.7" textLength="23.3" lengthAdjust="spacingAndGlyphs">&gt;10k</text><text x="68.3" y="98.2" textLength="30.2" lengthAdjust="spacingAndGlyphs">1k-10k</text><text x="68.3" y="120.7" textLength="30.7" lengthAdjust="spacingAndGlyphs">100-1k</text><text x="68.3" y="143.2" textLength="30.7" lengthAdjust="spacingAndGlyphs">10-100</text><text x="68.3" y="165.7" textLength="19.9" lengthAdjust="spacingAndGlyphs">1-10</text><text x="68.3" y="188.2" textLength="11.8" lengthAdjust="spacingAndGlyphs">&lt;1</text>
</g>
<text class="t" font-size="11.3" text-anchor="middle" textLength="82" lengthAdjust="spacingAndGlyphs" transform="translate(18.4,128.6) rotate(-90)">Cohorts by BTC</text>
<!-- price plot -->
<rect x="70" y="244" width="945" height="134" fill="#e9edf6"/>
<g class="g">
<line x1="82.3" x2="82.3" y1="244" y2="378"/>
<line x1="180.2" x2="180.2" y1="244" y2="378"/>
<line x1="278.2" x2="278.2" y1="244" y2="378"/>
<line x1="372.9" x2="372.9" y1="244" y2="378"/>
<line x1="470.9" x2="470.9" y1="244" y2="378"/>
<line x1="565.6" x2="565.6" y1="244" y2="378"/>
<line x1="663.6" x2="663.6" y1="244" y2="378"/>
<line x1="761.5" x2="761.5" y1="244" y2="378"/>
<line x1="853.1" x2="853.1" y1="244" y2="378"/>
<line x1="951.0" x2="951.0" y1="244" y2="378"/>
<line x1="70" x2="1015" y1="258.7" y2="258.7"/>
<line x1="70" x2="1015" y1="284.0" y2="284.0"/>
<line x1="70" x2="1015" y1="309.4" y2="309.4"/>
<line x1="70" x2="1015" y1="334.7" y2="334.7"/>
<line x1="70" x2="1015" y1="360.1" y2="360.1"/>
</g>
<!-- watermark -->
<text x="400.2" y="331.2" font-size="59.5" fill="#ced2da" textLength="282.6" lengthAdjust="spacing" clip-path="url(#pc)">glassnode</text>
<polyline points="70.0,358.3 74.2,359.6 84.2,358.3 89.7,357.0 93.4,358.3 99.8,360.1 104.3,359.2 109.8,359.2 115.3,358.3 118.0,358.8 121.7,356.5 125.3,359.2 139.0,360.1 152.7,360.1 156.3,362.1 175.5,362.1 181.0,361.0 184.6,362.1 199.2,362.5 203.8,360.7 212.0,361.4 223.0,362.0 228.4,363.8 232.0,368.3 235.7,369.8 248.5,369.8 251.2,369.2 255.8,369.8 266.4,369.3 270.0,366.0 272.8,367.1 276.4,370.4 294.7,370.7 298.3,369.6 307.4,370.4 310.7,372.4 314.7,370.2 322.0,368.7 331.2,368.4 336.6,367.1 342.1,368.4 351.2,369.3 359.5,369.3 364.0,367.8 369.5,367.8 374.0,365.3 380.4,366.4 384.0,365.6 386.0,366.7 390.5,365.1 396.9,365.6 406.0,368.4 415.1,368.2 417.8,366.5 420.6,363.8 429.7,363.4 435.2,360.5 440.7,359.2 443.4,353.8 448.0,349.2 453.4,349.7 460.5,348.4 467.8,348.0 470.5,346.2 475.0,347.8 484.2,347.1 491.5,345.6 498.8,341.6 502.4,341.2 505.2,342.3 508.8,342.9 513.0,345.6 515.2,340.1 518.9,344.2 524.3,342.9 529.8,340.5 534.4,344.7 537.1,341.6 546.2,340.1 553.5,342.0 557.2,340.1 564.5,339.6 567.2,337.0 571.8,334.7 575.4,329.2 579.0,324.6 584.6,325.5 589.1,323.7 594.6,325.2 598.2,331.0 601.0,330.1 604.6,326.8 610.1,329.2 612.8,328.8 616.5,331.0 620.1,328.3 622.9,328.3 625.6,325.5 631.1,324.6 635.7,325.5 638.4,326.5 641.1,325.5 644.8,328.3 648.4,326.5 654.6,329.3 660.0,328.8 663.7,323.7 666.8,322.8 670.0,327.3 672.8,324.6 682.8,324.2 685.6,316.9 689.2,318.8 692.9,317.8 695.6,318.8 699.3,327.3 704.7,329.3 711.1,327.0 713.9,327.3 717.5,330.6 725.7,330.6 730.3,335.7 734.9,334.3 739.4,334.3 742.2,329.7 748.5,329.2 752.2,327.0 757.7,328.2 763.1,327.0 768.6,327.3 773.2,328.2 777.7,326.6 783.2,320.6 786.9,316.4 792.3,313.8 796.9,309.1 799.6,309.6 803.3,304.2 808.8,303.8 812.4,305.1 816.0,303.8 821.5,303.2 826.1,305.4 831.6,307.4 837.0,304.7 839.6,299.3 843.2,292.0 846.9,277.4 849.6,280.1 853.2,277.8 856.9,278.7 859.6,276.5 862.7,263.2 866.0,272.8 870.6,268.3 876.1,263.2 880.6,261.9 884.3,253.1 887.9,254.6 890.7,250.9 897.0,260.1 900.7,270.7 904.0,262.4 907.1,264.3 909.8,278.0 913.5,264.3 919.3,275.0 923.5,271.9 929.0,258.8 932.6,258.8 934.5,260.1 938.1,257.0 941.8,258.8 944.5,258.8 947.2,255.5 950.9,260.1 954.2,270.7 957.3,269.2 960.5,262.8 963.6,264.1 970.0,260.1 973.1,254.6 975.9,261.0 979.2,257.0 982.4,259.2 988.3,272.8 991.6,270.1 994.7,274.7 998.0,274.7 1001.0,280.5 1004.7,274.7 1010.2,271.9 1013.5,271.4" fill="none" stroke="#62666f" stroke-width="1.3" stroke-linejoin="round" stroke-linecap="round"/>
<g class="t" font-size="9.7" text-anchor="end">
<text x="68.3" y="262.1" textLength="16.0" lengthAdjust="spacingAndGlyphs">70k</text><text x="68.3" y="287.4" textLength="16.0" lengthAdjust="spacingAndGlyphs">60k</text><text x="68.3" y="312.8" textLength="16.0" lengthAdjust="spacingAndGlyphs">50k</text><text x="68.3" y="338.1" textLength="16.0" lengthAdjust="spacingAndGlyphs">40k</text><text x="68.3" y="363.5" textLength="16.0" lengthAdjust="spacingAndGlyphs">30k</text>
</g>
<g class="t" font-size="9.7" text-anchor="middle">
<text x="83.5" y="389" textLength="37.2" lengthAdjust="spacingAndGlyphs">Jul 2023</text><text x="181.3" y="389" textLength="43.0" lengthAdjust="spacingAndGlyphs">Aug 2023</text><text x="279.0" y="389" textLength="43.1" lengthAdjust="spacingAndGlyphs">Sep 2023</text><text x="373.6" y="389" textLength="42.3" lengthAdjust="spacingAndGlyphs">Oct 2023</text><text x="471.2" y="389" textLength="44.2" lengthAdjust="spacingAndGlyphs">Nov 2023</text><text x="565.9" y="389" textLength="43.8" lengthAdjust="spacingAndGlyphs">Dec 2023</text><text x="663.8" y="389" textLength="40.2" lengthAdjust="spacingAndGlyphs">Jan 2024</text><text x="761.6" y="389" textLength="42.4" lengthAdjust="spacingAndGlyphs">Feb 2024</text><text x="852.9" y="389" textLength="43.7" lengthAdjust="spacingAndGlyphs">Mar 2024</text><text x="950.7" y="389" textLength="42.3" lengthAdjust="spacingAndGlyphs">Apr 2024</text>
</g>
<text class="t" font-size="11.3" text-anchor="middle" textLength="25" lengthAdjust="spacingAndGlyphs" transform="translate(33,311.4) rotate(-90)">Price</text>
<!-- colorbar -->
<rect x="1042.2" y="69" width="22.8" height="302" fill="url(#cb)"/>
<g class="t" font-size="9.7">
<text x="1068.3" y="71.9">1</text>
<text x="1068.3" y="132.3">0.8</text>
<text x="1068.3" y="192.7">0.6</text>
<text x="1068.3" y="253.1">0.4</text>
<text x="1068.3" y="313.5">0.2</text>
<text x="1068.3" y="373.9">0</text>
</g>
<!-- footer -->
<text x="71.4" y="413.8" font-size="11.2" fill="#a6a6a6" textLength="249.3" lengthAdjust="spacingAndGlyphs">Based on data from 2024-04-22T00:30:06Z</text>
<text x="788.9" y="413.8" font-size="11.2" fill="#a6a6a6" textLength="224.3" lengthAdjust="spacingAndGlyphs">© 2024 Glassnode. All Rights Reserved</text>
</svg>
</body></html>
